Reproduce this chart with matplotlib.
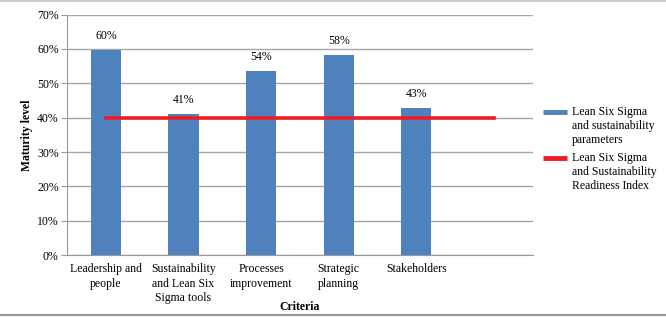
import matplotlib.pyplot as plt
from matplotlib.lines import Line2D
from matplotlib.ticker import PercentFormatter

plt.rcParams['font.family'] = ['Liberation Serif', 'DejaVu Serif']

criteria = ["Leadership and\npeople", "Sustainability\nand Lean Six\nSigma tools",
            "Processes\nimprovement", "Strategic\nplanning", "Stakeholders", ""]
maturity = [0.597, 0.412, 0.536, 0.583, 0.429]
readiness = [0.40, 0.40, 0.40, 0.40, 0.40, 0.40]
bar_labels = ["60%", "41%", "54%", "58%", "43%"]
legend_labels = ["Lean Six Sigma\nand sustainability\nparameters",
                 "Lean Six Sigma\nand Sustainability\nReadiness Index"]

blue = "#4f81bd"
red = "#ee1c25"

fig = plt.figure(figsize=(6.66, 3.18), dpi=100)
ax = fig.add_axes([0.1006, 0.198, 0.6994, 0.756])

x = range(len(criteria))
bars = ax.bar(x[:len(maturity)], maturity, width=0.39, color=blue, zorder=2)
ax.plot(x, readiness, color=red, lw=2.6, zorder=3)

for b, t in zip(bars, bar_labels):
    ax.text(b.get_x() + b.get_width() / 2, b.get_height() + 0.023, t,
            ha="center", va="bottom", fontsize=8.5)

ax.set_xlim(-0.5, len(criteria) - 0.5)
ax.set_ylim(0, 0.7)
ax.set_yticks([i / 10 for i in range(8)])
ax.yaxis.set_major_formatter(PercentFormatter(1.0, decimals=0))
ax.set_xticks(list(x), labels=criteria, fontsize=8.5, linespacing=1.25)
ax.tick_params(axis="x", length=0, pad=6)
ax.tick_params(axis="y", length=4, width=0.8, color="#999999", labelsize=8.5, pad=2)
ax.grid(axis="y", color="#a6a6a6", lw=1, zorder=0)
for s in ["top", "right"]:
    ax.spines[s].set_visible(False)
ax.spines["left"].set_color("#999999")
ax.spines["bottom"].set_color("#999999")

ax.set_ylabel("Maturity level", fontsize=8.5, fontweight="bold")
ax.yaxis.set_label_coords(-0.072, 0.5)
fig.text(0.45, 0.036, "Criteria", fontsize=8.5, fontweight="bold",
         ha="center", va="center")

# legend drawn by hand so the key sits on the first text line
for col, lab, ytop in [(blue, legend_labels[0], 112), (red, legend_labels[1], 158)]:
    yf = 1 - ytop / 318
    fig.add_artist(Line2D([0.815, 0.852], [yf, yf], color=col, lw=3.5,
                          solid_capstyle="butt"))
    fig.text(0.859, yf + 0.02, lab, fontsize=8.5, va="top", ha="left",
             linespacing=1.25)

fig.add_artist(Line2D([0, 1], [0.998, 0.998], color="#cccccc", lw=1.5))
fig.add_artist(Line2D([0, 1], [0.01, 0.01], color="#999999", lw=1.5))

fig.savefig("out.png", dpi=100)
